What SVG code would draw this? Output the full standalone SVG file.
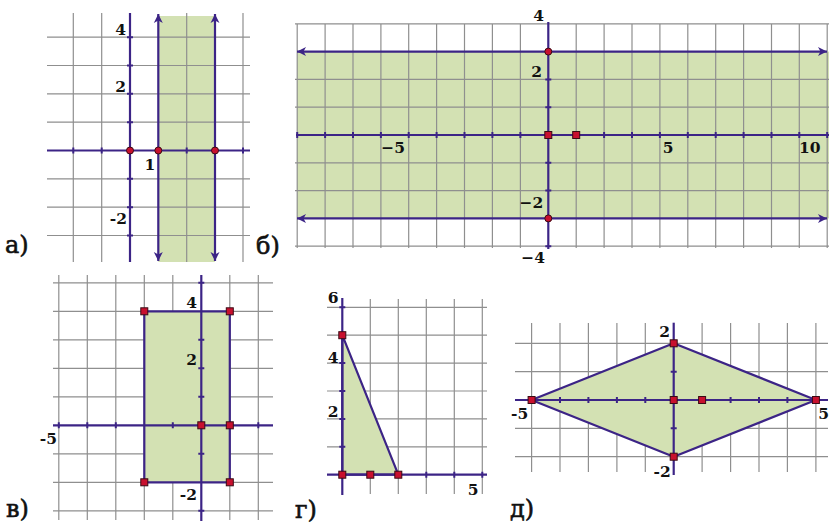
<svg xmlns="http://www.w3.org/2000/svg" width="829" height="524" viewBox="0 0 829 524">
<defs>
<style>
.g{stroke:#8f8f8f;stroke-width:1.2;fill:none}
.ax{stroke:#3c2486;stroke-width:2.2;fill:none}
.tk{stroke:#3c2486;stroke-width:2}
.ar{stroke:#3c2486;stroke-width:2.2;fill:none;marker-start:url(#arr);marker-end:url(#arr)}
.fill{fill:#d3e1b3}
.shape{fill:#d3e1b3;stroke:#3c2486;stroke-width:2.2;stroke-linejoin:round}
.pt{fill:#c8102e;stroke:#3a0a14;stroke-width:1}
.n{font-family:"DejaVu Serif","Liberation Serif",serif;font-size:15.5px;font-weight:bold;fill:#111}
.lb{font-family:"DejaVu Serif","Liberation Serif",serif;font-size:24px;fill:#111;stroke:#111;stroke-width:0.6}
</style>
<marker id="arr" viewBox="-10 -5 11 10" refX="0" refY="0" markerWidth="11" markerHeight="10" markerUnits="userSpaceOnUse" orient="auto-start-reverse">
<path d="M0,0 L-9,-4.5 L-6.5,0 L-9,4.5 Z" fill="#3c2486"/>
</marker>
<rect id="sq" x="-3.5" y="-3.5" width="7" height="7" class="pt"/>
</defs>
<rect width="829" height="524" fill="#fff"/>

<!-- Panel a -->
<g id="panel-a">
<rect class="fill" x="158.3" y="16" width="56.7" height="246"/>
<path class="g" d="M73.3 13V262M101.7 13V262M186.7 13V262M243 13V262M47 37.2H250M47 65.5H250M47 93.8H250M47 122.2H250M47 178.8H250M47 207.2H250M47 235.5H250"/>
<line class="ax" x1="47" y1="150.5" x2="250" y2="150.5"/>
<line class="ax" x1="130" y1="13" x2="130" y2="262"/>
<path class="tk" d="M73.3 147.5V153.5M101.7 147.5V153.5M186.7 147.5V153.5M243 147.5V153.5M127 37.2H133M127 65.5H133M127 93.8H133M127 122.2H133M127 178.8H133M127 207.2H133M127 235.5H133"/>
<line class="ar" x1="158.3" y1="261" x2="158.3" y2="14"/>
<line class="ar" x1="215" y1="261" x2="215" y2="14"/>
<circle class="pt" cx="130" cy="150.5" r="3.5"/>
<circle class="pt" cx="158.3" cy="150.5" r="3.5"/>
<circle class="pt" cx="215" cy="150.5" r="3.5"/>
<text class="n" x="126" y="35" text-anchor="end">4</text>
<text class="n" x="126" y="92" text-anchor="end">2</text>
<text class="n" x="150" y="170" text-anchor="middle">1</text>
<text class="n" x="127" y="224" text-anchor="end">-2</text>
<text class="lb" x="5" y="253">а)</text>
</g>

<!-- Panel b -->
<g id="panel-b">
<rect class="fill" x="297" y="51.6" width="532" height="166.8"/>
<path class="g" d="M297.2 24V248M325.1 24V248M353 24V248M380.9 24V248M408.7 24V248M436.6 24V248M464.5 24V248M492.4 24V248M520.4 24V248M576.2 24V248M604.1 24V248M632 24V248M659.9 24V248M687.8 24V248M715.7 24V248M743.6 24V248M771.5 24V248M799.3 24V248M827.2 24V248M295 23.8H829M295 79.4H829M295 107.2H829M295 162.8H829M295 190.6H829M295 246.2H829"/>
<line class="ax" x1="296" y1="135" x2="829" y2="135"/>
<line class="ax" x1="548.3" y1="22" x2="548.3" y2="249"/>
<path class="tk" d="M297.2 132V138M325.1 132V138M353 132V138M380.9 132V138M408.7 132V138M436.6 132V138M464.5 132V138M492.4 132V138M520.4 132V138M604.1 132V138M632 132V138M659.9 132V138M687.8 132V138M715.7 132V138M743.6 132V138M771.5 132V138M799.3 132V138M827.2 132V138M545.3 79.4H551.3M545.3 107.2H551.3M545.3 162.8H551.3M545.3 190.6H551.3M545.3 246.2H551.3"/>
<line class="ar" x1="297" y1="51.6" x2="827" y2="51.6"/>
<line class="ar" x1="297" y1="218.4" x2="827" y2="218.4"/>
<circle class="pt" cx="548.3" cy="51.6" r="3.5"/>
<circle class="pt" cx="548.3" cy="218.4" r="3.5"/>
<use href="#sq" x="548.3" y="135"/>
<use href="#sq" x="576.2" y="135"/>
<text class="n" x="544" y="21" text-anchor="end">4</text>
<text class="n" x="542" y="76.7" text-anchor="end">2</text>
<text class="n" x="405" y="153.3" text-anchor="end">−5</text>
<text class="n" x="662.7" y="153.3">5</text>
<text class="n" x="799" y="153.3">10</text>
<text class="n" x="543.3" y="208.3" text-anchor="end">−2</text>
<text class="n" x="545" y="263.3" text-anchor="end">−4</text>
<text class="lb" x="256" y="254">б)</text>
</g>

<!-- Panel v -->
<g id="panel-v">
<path class="g" d="M58.8 275V520M87.3 275V520M115.8 275V520M144.3 275V520M172.8 275V520M229.8 275V520M258.3 275V520M53 282.8H273M53 311.3H273M53 339.8H273M53 368.3H273M53 396.8H273M53 453.8H273M53 482.3H273M53 510.8H273"/>
<rect class="shape" x="144.3" y="311.3" width="85.5" height="171"/>
<line class="ax" x1="53" y1="425.3" x2="273" y2="425.3"/>
<line class="ax" x1="201.3" y1="275" x2="201.3" y2="521"/>
<path class="tk" d="M58.8 422.3V428.3M87.3 422.3V428.3M115.8 422.3V428.3M172.8 422.3V428.3M258.3 422.3V428.3M198.3 282.8H204.3M198.3 339.8H204.3M198.3 368.3H204.3M198.3 396.8H204.3M198.3 453.8H204.3M198.3 510.8H204.3"/>
<use href="#sq" x="144.3" y="311.3"/>
<use href="#sq" x="229.8" y="311.3"/>
<use href="#sq" x="144.3" y="482.3"/>
<use href="#sq" x="229.8" y="482.3"/>
<use href="#sq" x="201.3" y="425.3"/>
<use href="#sq" x="229.8" y="425.3"/>
<text class="n" x="197" y="308.3" text-anchor="end">4</text>
<text class="n" x="197" y="365" text-anchor="end">2</text>
<text class="n" x="57" y="444" text-anchor="end">-5</text>
<text class="n" x="197" y="500" text-anchor="end">-2</text>
<text class="lb" x="6" y="517">в)</text>
</g>

<!-- Panel g -->
<g id="panel-g">
<path class="g" d="M370.3 299V494M398.3 299V494M426.3 299V494M454.3 299V494M482.3 299V494M327 307.3H487M327 335.2H487M327 363.1H487M327 391H487M327 418.9H487M327 446.8H487"/>
<polygon class="shape" points="342.3,335.2 342.3,474.7 398.3,474.7"/>
<line class="ax" x1="327" y1="474.7" x2="487" y2="474.7"/>
<line class="ax" x1="342.3" y1="298" x2="342.3" y2="495"/>
<path class="tk" d="M426.3 471.7V477.7M454.3 471.7V477.7M482.3 471.7V477.7M339.3 307.3H345.3M339.3 363.1H345.3M339.3 391H345.3M339.3 418.9H345.3M339.3 446.8H345.3"/>
<use href="#sq" x="342.3" y="335.2"/>
<use href="#sq" x="342.3" y="474.7"/>
<use href="#sq" x="370.3" y="474.7"/>
<use href="#sq" x="398.3" y="474.7"/>
<text class="n" x="338.5" y="303.3" text-anchor="end">6</text>
<text class="n" x="338.5" y="363.3" text-anchor="end">4</text>
<text class="n" x="338.5" y="416.7" text-anchor="end">2</text>
<text class="n" x="478.5" y="495" text-anchor="end">5</text>
<text class="lb" x="295" y="518">г)</text>
</g>

<!-- Panel d -->
<g id="panel-d">
<path class="g" d="M531.6 323V472M560 323V472M588.4 323V472M616.9 323V472M645.3 323V472M702.1 323V472M730.6 323V472M759 323V472M787.4 323V472M815.9 323V472M515 343.3H828M515 371.7H828M515 428.3H828M515 456.7H828"/>
<polygon class="shape" points="531.6,400 673.7,343.3 815.9,400 673.7,456.7"/>
<line class="ax" x1="515" y1="400" x2="828" y2="400"/>
<line class="ax" x1="673.7" y1="322.7" x2="673.7" y2="475"/>
<path class="tk" d="M560 397V403M588.4 397V403M616.9 397V403M645.3 397V403M730.6 397V403M759 397V403M787.4 397V403M670.7 371.7H676.7M670.7 428.3H676.7"/>
<use href="#sq" x="531.6" y="400"/>
<use href="#sq" x="673.7" y="343.3"/>
<use href="#sq" x="815.9" y="400"/>
<use href="#sq" x="673.7" y="456.7"/>
<use href="#sq" x="673.7" y="400"/>
<use href="#sq" x="702.1" y="400"/>
<text class="n" x="670" y="336.7" text-anchor="end">2</text>
<text class="n" x="528.3" y="419" text-anchor="end">-5</text>
<text class="n" x="818.3" y="419">5</text>
<text class="n" x="670.7" y="476.7" text-anchor="end">-2</text>
<text class="lb" x="510" y="517">д)</text>
</g>
</svg>
